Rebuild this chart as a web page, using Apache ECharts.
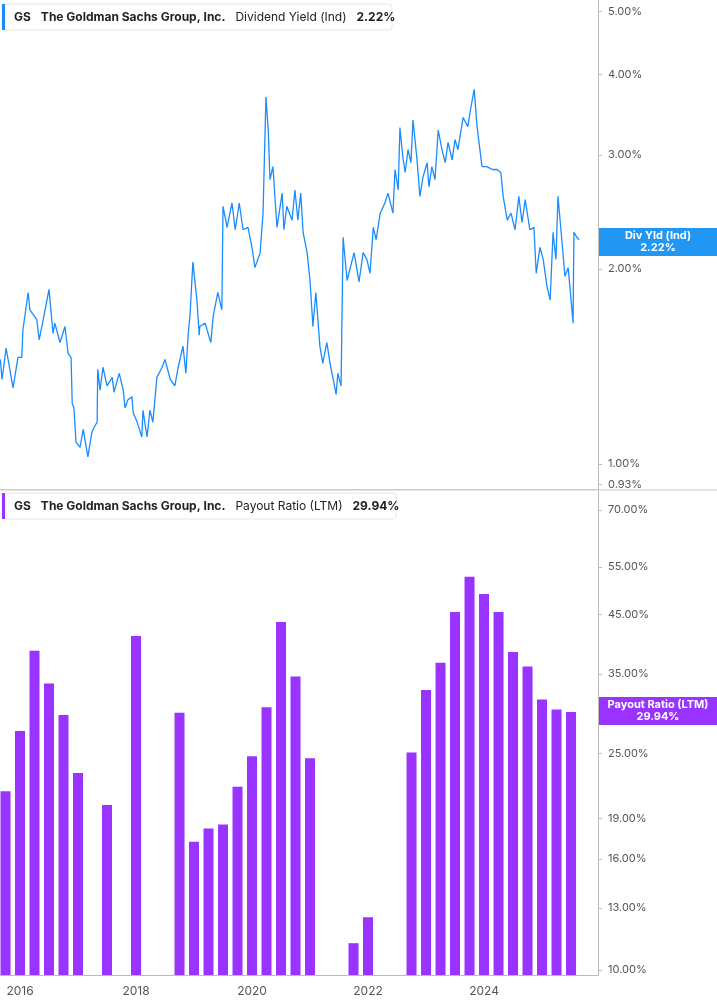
<!DOCTYPE html>
<html>
<head>
<meta charset="utf-8">
<script src="https://cdn.jsdelivr.net/npm/echarts@6/dist/echarts.min.js"></script>
<style>html,body{margin:0;padding:0;background:#fff}#main{width:717px;height:1005px}</style>
</head>
<body>
<div id="main"></div>
<script>
// dividend yield (%), x in decimal years
var yieldYears = [2015.66,2015.69,2015.76,2015.88,2015.965,2016.03,2016.05,2016.14,2016.17,2016.29,2016.33,2016.40,2016.50,2016.57,2016.60,2016.69,2016.775,2016.83,2016.88,2016.90,2016.93,2016.965,2017.035,2017.09,2017.17,2017.24,2017.28,2017.33,2017.34,2017.38,2017.43,2017.50,2017.59,2017.62,2017.71,2017.78,2017.81,2017.86,2017.93,2017.95,2018.02,2018.10,2018.12,2018.19,2018.24,2018.29,2018.33,2018.36,2018.45,2018.50,2018.59,2018.67,2018.72,2018.81,2018.86,2018.90,2018.93,2018.98,2019.05,2019.09,2019.10,2019.19,2019.29,2019.33,2019.41,2019.48,2019.50,2019.57,2019.655,2019.71,2019.78,2019.845,2019.93,2020.00,2020.05,2020.14,2020.19,2020.21,2020.24,2020.28,2020.31,2020.36,2020.43,2020.52,2020.55,2020.60,2020.69,2020.74,2020.79,2020.84,2020.88,2020.95,2021.00,2021.05,2021.10,2021.17,2021.22,2021.29,2021.345,2021.40,2021.45,2021.48,2021.535,2021.57,2021.64,2021.67,2021.76,2021.845,2021.915,2021.98,2022.035,2022.09,2022.14,2022.21,2022.29,2022.345,2022.43,2022.465,2022.52,2022.55,2022.60,2022.64,2022.69,2022.74,2022.775,2022.81,2022.845,2022.895,2022.95,2023.02,2023.05,2023.10,2023.155,2023.21,2023.275,2023.33,2023.38,2023.45,2023.50,2023.55,2023.64,2023.72,2023.775,2023.83,2023.88,2023.965,2024.05,2024.14,2024.225,2024.29,2024.33,2024.40,2024.465,2024.535,2024.60,2024.655,2024.71,2024.79,2024.86,2024.90,2024.965,2025.02,2025.085,2025.14,2025.19,2025.24,2025.275,2025.345,2025.395,2025.45,2025.48,2025.535,2025.55,2025.60,2025.64];
var yieldValues = [1.45,1.35,1.51,1.31,1.46,1.46,1.61,1.84,1.73,1.67,1.555,1.67,1.86,1.59,1.65,1.54,1.63,1.48,1.46,1.24,1.22,1.08,1.06,1.13,1.025,1.12,1.14,1.16,1.40,1.30,1.41,1.32,1.36,1.29,1.38,1.30,1.22,1.256,1.27,1.20,1.16,1.10,1.21,1.10,1.21,1.16,1.27,1.36,1.41,1.45,1.35,1.32,1.40,1.52,1.38,1.59,1.69,2.05,1.79,1.58,1.63,1.65,1.54,1.69,1.84,1.73,2.50,2.32,2.53,2.30,2.53,2.30,2.32,2.16,2.01,2.12,2.44,2.88,3.69,3.28,2.75,2.88,2.32,2.62,2.30,2.50,2.38,2.65,2.38,2.62,2.28,2.12,1.92,1.63,1.84,1.52,1.43,1.54,1.43,1.35,1.28,1.38,1.32,2.24,1.92,1.97,2.12,1.91,2.12,2.07,1.97,2.32,2.22,2.44,2.53,2.62,2.44,2.85,2.65,3.31,2.98,2.82,3.06,2.92,3.40,3.17,2.95,2.59,2.78,2.92,2.68,2.88,2.75,3.28,3.06,2.92,3.14,2.95,3.17,3.06,3.43,3.32,3.56,3.79,3.32,2.88,2.88,2.85,2.85,2.82,2.59,2.38,2.44,2.30,2.59,2.36,2.56,2.30,2.32,1.97,2.16,2.07,1.88,1.79,2.28,2.07,2.59,2.20,1.95,2.01,1.88,1.65,2.28,2.24,2.22];

// payout ratio (%), quarterly from Q3 2015, null = no bar
var payoutStart = 2015.75;
var payoutValues = [21.3,27.5,38.6,33.6,29.4,23.0,null,20.1,null,41.1,null,null,29.7,17.2,18.2,18.5,21.7,24.7,30.4,43.6,34.6,24.5,null,null,11.2,12.5,null,null,25.1,32.7,36.7,45.5,52.8,49.1,45.5,38.4,36.1,31.4,30.1,29.8];

var yieldTicks = [0.93,1,2,3,4,5];
var payoutTicks = [10,13,16,19,25,35,45,55,70];
var yearTicks = [2016,2018,2020,2022,2024];

var lineColor = '#1a8cff';
var barColor = '#9933ff';
var font = 'Inter, "Noto Sans", sans-serif';

var lineData = yieldYears.map(function(y, i){ return [y, Math.log10(yieldValues[i])]; });
var barData = payoutValues.map(function(v, i){
    return [payoutStart + i * 0.25, v == null ? null : Math.log10(v)];
});

function pct(v){ return Math.pow(10, v).toFixed(2) + '%'; }

var xMin = 2015.655, xMax = 2025.965;

var myChart = echarts.init(document.getElementById('main'));

var axisLabelStyle = {color: '#555', fontSize: 11, fontFamily: font};

option = {
    animation: false,
    grid: [
        {left: 0, right: 119, top: 0, height: 490},
        {left: 0, right: 119, top: 490, height: 485}
    ],
    xAxis: [
        {gridIndex: 0, type: 'value', min: xMin, max: xMax, show: false},
        {gridIndex: 1, type: 'value', min: xMin, max: xMax,
            axisLine: {lineStyle: {color: '#bbb'}},
            axisTick: {show: false},
            splitLine: {show: false},
            axisLabel: Object.assign({customValues: yearTicks, formatter: function(v){ return String(Math.round(v)); }, margin: 10, fontSize: 12}, {color: '#555', fontFamily: font})
        }
    ],
    yAxis: [
        {gridIndex: 0, type: 'value', position: 'right',
            min: Math.log10(0.911), max: Math.log10(5.21),
            axisLine: {show: true, lineStyle: {color: '#bbb'}},
            axisTick: {show: true, length: 4, customValues: yieldTicks.map(Math.log10), lineStyle: {color: '#bbb'}},
            splitLine: {show: false},
            axisLabel: Object.assign({customValues: yieldTicks.map(Math.log10), formatter: pct, margin: 10}, axisLabelStyle)
        },
        {gridIndex: 1, type: 'value', position: 'right',
            min: Math.log10(9.79), max: Math.log10(76.2),
            axisLine: {show: true, lineStyle: {color: '#bbb'}},
            axisTick: {show: true, length: 4, customValues: payoutTicks.map(Math.log10), lineStyle: {color: '#bbb'}},
            splitLine: {show: false},
            axisLabel: Object.assign({customValues: payoutTicks.map(Math.log10), formatter: pct, margin: 10}, axisLabelStyle)
        }
    ],
    series: [
        {
            type: 'line', xAxisIndex: 0, yAxisIndex: 0,
            data: lineData, showSymbol: false,
            lineStyle: {color: lineColor, width: 1.3},
            markLine: {
                silent: true, symbol: 'none',
                lineStyle: {color: '#ccc', type: 'solid', width: 1},
                label: {show: false},
                data: [{yAxis: Math.log10(0.911)}]
            }
        },
        {
            type: 'bar', xAxisIndex: 1, yAxisIndex: 1,
            data: barData, barWidth: 10, clip: true,
            itemStyle: {color: barColor}
        }
    ],
    graphic: [
        // separator between the two panels
        {type: 'line', shape: {x1: 0, y1: 490, x2: 717, y2: 490}, style: {stroke: '#ccc', lineWidth: 1}},
        // legend boxes
        {type: 'rect', shape: {x: 2, y: 4, width: 390, height: 26, r: 3}, style: {fill: '#fff', stroke: '#e6e6e6'}},
        {type: 'rect', shape: {x: 2, y: 4, width: 3, height: 26}, style: {fill: lineColor}},
        {type: 'text', x: 14, y: 17, style: {
            text: '{b|GS}   {b|The Goldman Sachs Group, Inc.}   {n|Dividend Yield (Ind)}   {b|2.22%}',
            verticalAlign: 'middle',
            rich: {b: {fontWeight: 'bold', fontSize: 12, fontFamily: font, fill: '#222'},
                   n: {fontSize: 12, fontFamily: font, fill: '#222'}}
        }},
        {type: 'rect', shape: {x: 2, y: 493, width: 394, height: 26, r: 3}, style: {fill: '#fff', stroke: '#e6e6e6'}},
        {type: 'rect', shape: {x: 2, y: 493, width: 3, height: 26}, style: {fill: barColor}},
        {type: 'text', x: 14, y: 506, style: {
            text: '{b|GS}   {b|The Goldman Sachs Group, Inc.}   {n|Payout Ratio (LTM)}   {b|29.94%}',
            verticalAlign: 'middle',
            rich: {b: {fontWeight: 'bold', fontSize: 12, fontFamily: font, fill: '#222'},
                   n: {fontSize: 12, fontFamily: font, fill: '#222'}}
        }},
        // last-value badges on the right axis
        {type: 'rect', shape: {x: 598, y: 228, width: 119, height: 28}, style: {fill: '#2196f3'}},
        {type: 'text', x: 658, y: 242, style: {
            text: 'Div Yld (Ind)\n2.22%', align: 'center', verticalAlign: 'middle',
            fill: '#fff', fontWeight: 'bold', fontSize: 11, fontFamily: font, lineHeight: 12
        }},
        {type: 'rect', shape: {x: 598, y: 697, width: 119, height: 28}, style: {fill: barColor}},
        {type: 'text', x: 658, y: 711, style: {
            text: 'Payout Ratio (LTM)\n29.94%', align: 'center', verticalAlign: 'middle',
            fill: '#fff', fontWeight: 'bold', fontSize: 11, fontFamily: font, lineHeight: 12
        }}
    ]
};

myChart.setOption(option);
</script>
</body>
</html>
